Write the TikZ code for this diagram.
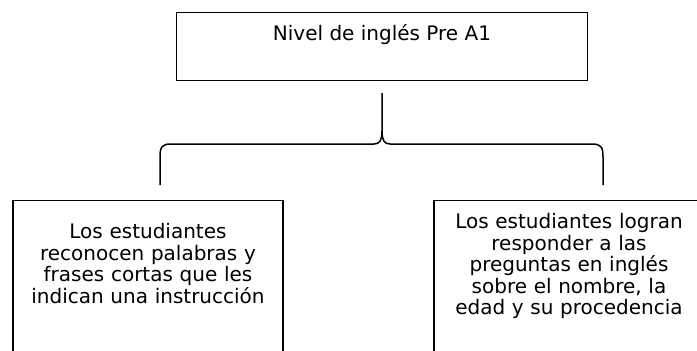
\documentclass[tikz,border=0pt]{standalone}
\usepackage{fontspec}
\setmainfont{DejaVu Sans}
\begin{document}
\begin{tikzpicture}[x=1pt, y=-1pt, every node/.style={font=\fontsize{20}{21.5}\selectfont},
  caja/.style={draw,line width=1.3pt,align=center,anchor=north,inner xsep=10pt,inner ysep=8pt},
  llave/.style={line width=1.5pt,line join=round}]
  \useasboundingbox (0,0) rectangle (697,351);
  \node[caja,minimum width=411pt,inner ysep=2.5pt,text height=25pt,text depth=38pt] (nivel) at (382,12) {Nivel de inglés Pre A1};
  \node[caja,text width=250pt,text height=30pt,text depth=130pt] (reconocen) at (148,200) {Los estudiantes\\reconocen palabras y\\frases cortas que les\\indican una instrucción};
  \node[caja,text width=250pt,text height=20pt,text depth=130pt] (responder) at (569,200) {Los estudiantes logran\\responder a las\\preguntas en inglés\\sobre el nombre, la\\edad y su procedencia};
  \coordinate (punta) at (382,93); \coordinate (izq) at (160,185); \coordinate (der) at (603,185);
  \draw[llave] (izq) -- (160,157) .. controls (160,147) and (162,144) .. (171,144) -- (374,144) .. controls (380,144) and (382,140) .. (382,131) -- (punta);
  \draw[llave] (der) -- (603,157) .. controls (603,147) and (601,144) .. (592,144) -- (390,144) .. controls (384,144) and (382,140) .. (382,131);
\end{tikzpicture}
\end{document}
